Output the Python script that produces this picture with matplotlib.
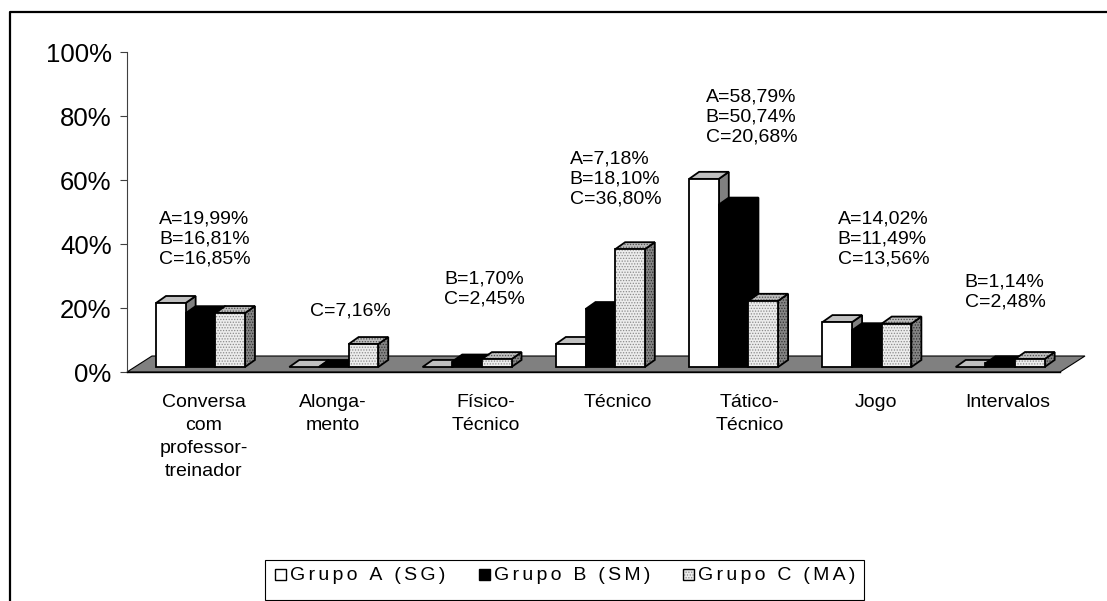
import matplotlib.pyplot as plt
from matplotlib.patches import Polygon, Rectangle
from matplotlib.lines import Line2D

plt.rcParams['font.family'] = ['Liberation Sans', 'DejaVu Sans']
plt.rcParams['hatch.linewidth'] = 0.6

# dados
categories = ['Conversa\ncom\nprofessor-\ntreinador', 'Alonga-\nmento', 'Físico-\nTécnico',
              'Técnico', 'Tático-\nTécnico', 'Jogo', 'Intervalos']
grupo_a = [19.99, 0, 0, 7.18, 58.79, 14.02, 0]
grupo_b = [16.81, 0, 1.70, 18.10, 50.74, 11.49, 1.14]
grupo_c = [16.85, 7.16, 2.45, 36.80, 20.68, 13.56, 2.48]
letters = ['A', 'B', 'C']
series_names = ['Grupo A (SG)', 'Grupo B (SM)', 'Grupo C (MA)']
yticks = [0, 20, 40, 60, 80, 100]

# estilos: frente, topo, lado, hachura
styles = [
    dict(front='white', top='#c0c0c0', side='#808080', hatch=None),
    dict(front='black', top='black', side='black', hatch=None),
    dict(front='#ececec', top='#bdbdbd', side='#858585', hatch='......'),
]
hatch_cols = ['#8a8a8a', '#505050', '#303030']

# geometria pseudo-3D (unidades de dados)
bar_w = 0.2225
bar_start = 0.2175
dx, dy = 0.075, 2.2          # profundidade da barra
set_back = 1.56              # barras recuadas no piso
floor_dx, floor_dy = 0.1875, 5.0

label_x = [0.574, 1.541, 2.693, 3.686, 4.6725, 5.6175, 6.611]
ann_pos = [(0.24, 41.6), (1.3725, 19.1), (2.3775, 25.9), (3.3225, 60.3),
           (4.3425, 79.7), (5.3325, 41.6), (6.285, 25.0)]

fig = plt.figure(figsize=(11.07, 6.01), dpi=100)
ax = fig.add_axes([127 / 1107, 229 / 601, 933 / 1107, 320 / 601])
ax.set_xlim(0, 7)
ax.set_ylim(0, 100)

n = len(categories)
floor = Polygon([(0, 0), (n, 0), (n + floor_dx, floor_dy), (floor_dx, floor_dy)],
                closed=True, facecolor='#808080', edgecolor='black', lw=0.8,
                clip_on=False, zorder=1)
ax.add_patch(floor)


def face(pts, fc, hatch, hcol):
    if hatch:
        ax.add_patch(Polygon(pts, closed=True, facecolor=fc, edgecolor=hcol,
                             hatch=hatch, lw=0, clip_on=False, zorder=2))
        ax.add_patch(Polygon(pts, closed=True, facecolor='none', edgecolor='black',
                             lw=1.3, clip_on=False, zorder=2))
    else:
        ax.add_patch(Polygon(pts, closed=True, facecolor=fc, edgecolor='black',
                             lw=1.3, clip_on=False, zorder=2))


series = [grupo_a, grupo_b, grupo_c]
for i in range(n):
    for j, vals in enumerate(series):
        v = vals[i]
        st = styles[j]
        x0 = i + bar_start + j * bar_w
        y0 = set_back
        x1 = x0 + bar_w
        side = [(x1, y0), (x1 + dx, y0 + dy), (x1 + dx, y0 + v + dy), (x1, y0 + v)]
        top = [(x0, y0 + v), (x1, y0 + v), (x1 + dx, y0 + v + dy), (x0 + dx, y0 + v + dy)]
        front = [(x0, y0), (x1, y0), (x1, y0 + v), (x0, y0 + v)]
        face(side, st['side'], st['hatch'], hatch_cols[2])
        face(top, st['top'], st['hatch'], hatch_cols[1])
        if v > 0:
            face(front, st['front'], st['hatch'], hatch_cols[0])

# rótulos de valores
for i in range(n):
    lines = []
    for let, vals in zip(letters, series):
        if vals[i] > 0:
            lines.append(f"{let}={vals[i]:.2f}%".replace('.', ','))
    ax.text(ann_pos[i][0], ann_pos[i][1], '\n'.join(lines), ha='left', va='center',
            fontsize=14, linespacing=1.26, multialignment='left')

ax.spines['top'].set_visible(False)
ax.spines['right'].set_visible(False)
ax.spines['left'].set_color('#404040')
ax.spines['left'].set_linewidth(0.8)
ax.spines['bottom'].set_color('black')
ax.spines['bottom'].set_linewidth(1.0)
ax.spines['bottom'].set_zorder(3)

ax.set_yticks(yticks)
ax.set_yticklabels([f"{t}%" for t in yticks])
ax.tick_params(axis='y', direction='out', length=5, width=0.8, color='#404040',
               labelsize=18.5, pad=6)
ax.set_xticks(label_x)
ax.set_xticklabels(categories, fontsize=14, linespacing=1.45)
ax.tick_params(axis='x', length=0, pad=16)

# moldura externa (recortada)
fig.add_artist(Line2D([10 / 1107, 10 / 1107, 1.0], [0.0, 1 - 12 / 601, 1 - 12 / 601],
                      color='black', lw=1.6, transform=fig.transFigure))

# legenda
fig.add_artist(Rectangle((265 / 1107, 1 - 600 / 601), 599 / 1107, 40 / 601,
                         transform=fig.transFigure, facecolor='white',
                         edgecolor='black', lw=0.8))
leg_sq = [275, 479, 683]
leg_fc = ['white', 'black', '#ececec']
for k, name in enumerate(series_names):
    sx = leg_sq[k]
    if styles[k]['hatch']:
        fig.add_artist(Rectangle((sx / 1107, 1 - 580 / 601), 11 / 1107, 11 / 601,
                                 transform=fig.transFigure, facecolor=leg_fc[k],
                                 edgecolor=hatch_cols[0], hatch=styles[k]['hatch'], lw=0))
    fig.add_artist(Rectangle((sx / 1107, 1 - 580 / 601), 11 / 1107, 11 / 601,
                             transform=fig.transFigure,
                             facecolor='none' if styles[k]['hatch'] else leg_fc[k],
                             edgecolor='black', lw=1.0))
    fig.text((sx + 15) / 1107, 1 - 580 / 601, '\u200a\u200a'.join(name), fontsize=14,
             ha='left', va='baseline')

fig.savefig('out.png', dpi=100)
